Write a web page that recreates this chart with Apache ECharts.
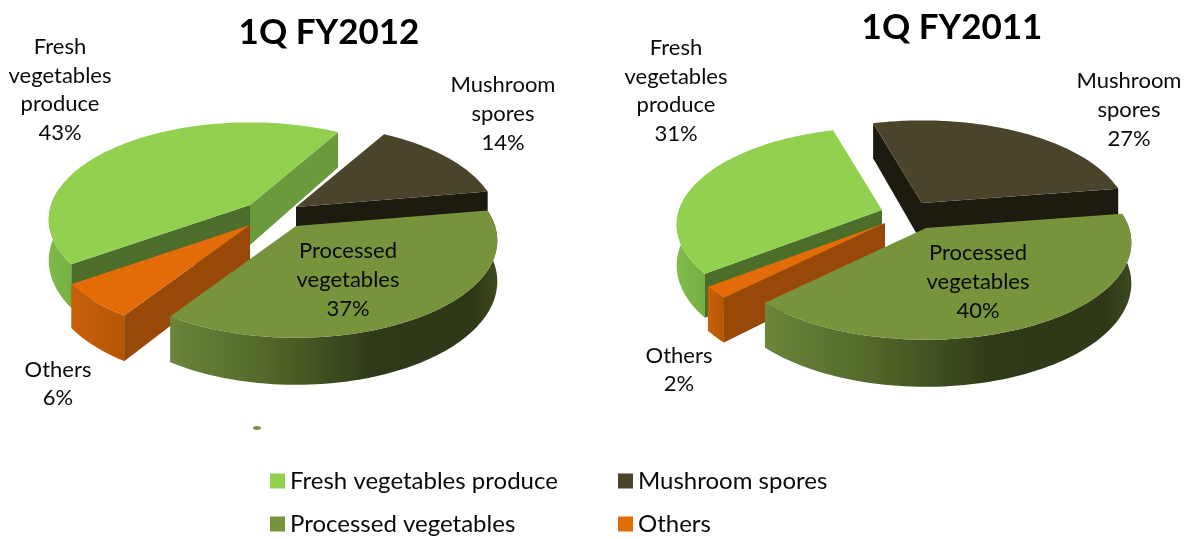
<!DOCTYPE html>
<html>
<head>
<meta charset="utf-8">
<style>html,body{margin:0;padding:0;background:#fff}#chart{width:1193px;height:539px}</style>
<script src="https://cdn.jsdelivr.net/npm/echarts@6/dist/echarts.min.js"></script>
</head>
<body>
<div id="chart"></div>
<script>
// Sales mix by quarter, percent of total
const quarters = ['1Q FY2012', '1Q FY2011'];
const categories = ['Fresh vegetables produce', 'Mushroom spores', 'Others', 'Processed vegetables'];
const freshValues = [43, 31];
const mushroomValues = [14, 27];
const othersValues = [6, 2];
const processedValues = [37, 40];

// Clockwise order in which slices follow each other around a pie
const sweepOrder = [1, 3, 2, 0];
const seriesValues = [freshValues, mushroomValues, othersValues, processedValues];

// Label wording per category
const labelWords = ['Fresh\nvegetables\nproduce', 'Mushroom\nspores', 'Others', 'Processed\nvegetables'];

// Pie geometry: per-quarter start angle and radius, shared tilt and thickness
const pieStart = [300, 254];
const pieRadius = [199, 203];
const radiusY = 95;
const perspective = 0.15;
const thickness = 40;

// Exploded slice apexes [quarter][category]
const apexes = [
  [[250, 205], [296, 207], [250, 225], [296, 226]],
  [[882, 210], [922, 203], [885, 223], [926, 228]]
];
// Label centres [quarter][category]
const labelCentres = [
  [[60, 90], [503, 114], [58, 384], [348, 280]],
  [[676, 91], [1129, 110], [679, 370], [978, 282]]
];

// Legend rows: [left, top, category index]
const legendCells = [
  [265, 464, 0], [613, 464, 1],
  [265, 507, 3], [613, 507, 2]
];

const topColors = ['#92D050', '#4A452A', '#E36C09', '#77933C'];
const leadFaceColors = ['#4C6E2A', '#1D1A0F', '#984807', '#4C6E2A'];
const trailFaceColors = ['#6A9A3C', '#1D1A0F', '#984807', '#4C6E2A'];
const wallStops = [
  [[0, '#7FBC4B'], [1, '#76B044']],
  [[0, '#1D1A0F'], [1, '#1D1A0F']],
  [[0, '#C9600A'], [1, '#B65606']],
  [[0, '#6B853A'], [0.3, '#526729'], [0.62, '#2F3A18'], [0.93, '#2E3817'], [1, '#3D4A20']]
];

function sliceAngles(quarter, category) {
  let angle = pieStart[quarter];
  for (const c of sweepOrder) {
    const sweep = seriesValues[c][quarter] * 3.6;
    if (c === category) return [angle, angle + sweep];
    angle += sweep;
  }
}

function project(apex, radius, deg) {
  const t = deg * Math.PI / 180;
  const s = 1 / (1 - perspective * Math.sin(t));
  return [apex[0] + radius * Math.cos(t) * s, apex[1] + radiusY * Math.sin(t) * s, s];
}

function lowered(p) {
  return [p[0], p[1] + thickness * p[2]];
}

function polygon(points, fill) {
  return { type: 'polygon', shape: { points }, style: { fill, stroke: null } };
}

function renderSlice(category) {
  return function (params, api) {
    const quarter = params.dataIndex;
    const value = api.value(0);
    const [a0, a1] = sliceAngles(quarter, category);
    const apex = apexes[quarter][category];
    const radius = pieRadius[quarter];
    const arc = [];
    for (let i = 0; i <= 90; i++) {
      arc.push(a0 + (a1 - a0) * i / 90);
    }
    const rim = arc.map(d => project(apex, radius, d));
    const apexPoint = [apex[0], apex[1], 1];
    const children = [];

    // Outer wall, only along the part of the rim that faces the viewer
    const frontArc = arc.filter(d => Math.sin(d * Math.PI / 180) > -0.2)
      .map(d => project(apex, radius, d));
    if (frontArc.length > 1) {
      const pts = frontArc.map(p => [p[0], p[1]])
        .concat(frontArc.slice().reverse().map(lowered));
      children.push(polygon(pts, {
        type: 'linear', x: 0, y: 0, x2: 1, y2: 0,
        colorStops: wallStops[category].map(s => ({ offset: s[0], color: s[1] }))
      }));
    }

    // Radial cut faces that turn towards the viewer
    const cut = (corner, fill) => polygon([
      [apexPoint[0], apexPoint[1]], [corner[0], corner[1]], lowered(corner), lowered(apexPoint)
    ], fill);
    if (Math.cos(a0 * Math.PI / 180) < 0) children.push(cut(rim[0], leadFaceColors[category]));
    if (Math.cos(a1 * Math.PI / 180) > 0) children.push(cut(rim[rim.length - 1], trailFaceColors[category]));

    // Top surface
    children.push(polygon(
      [[apex[0], apex[1]]].concat(rim.map(p => [p[0], p[1]])),
      topColors[category]
    ));

    // Data label
    const centre = labelCentres[quarter][category];
    children.push({
      type: 'text', x: centre[0], y: centre[1], z2: 10,
      style: {
        text: labelWords[category] + '\n' + value + '%',
        fontFamily: 'Lato', fontSize: 22, lineHeight: 28.7,
        align: 'center', verticalAlign: 'middle', fill: '#0a0a0a'
      }
    });
    return { type: 'group', children };
  };
}

const chart = echarts.init(document.getElementById('chart'), null, { renderer: 'canvas' });

const titleLayout = [{ left: 324, top: 10 }, { left: 947, top: 5 }];

chart.setOption({
  animation: false,
  backgroundColor: '#fff',
  title: quarters.map((q, i) => ({
    text: q,
    left: titleLayout[i].left,
    top: titleLayout[i].top,
    textAlign: 'center',
    textStyle: { fontFamily: 'Lato', fontWeight: 'bold', fontSize: 35, color: '#000' }
  })),
  // One legend per cell keeps the two-by-two arrangement on fixed columns
  legend: legendCells.map(cell => ({
    left: cell[0], top: cell[1], itemWidth: 15, itemHeight: 15, icon: 'rect',
    data: [categories[cell[2]]],
    textStyle: { fontFamily: 'Lato', fontSize: 24, color: '#0a0a0a' }
  })),
  series: categories.map((name, c) => ({
    type: 'custom',
    name,
    coordinateSystem: 'none',
    silent: true,
    itemStyle: { color: topColors[c] },
    renderItem: renderSlice(c),
    data: seriesValues[c].map(v => [v])
  })),
  graphic: [{
    type: 'ellipse', shape: { cx: 257, cy: 428, rx: 4, ry: 2 },
    style: { fill: '#7c8a4a' }
  }]
});
</script>
</body>
</html>
